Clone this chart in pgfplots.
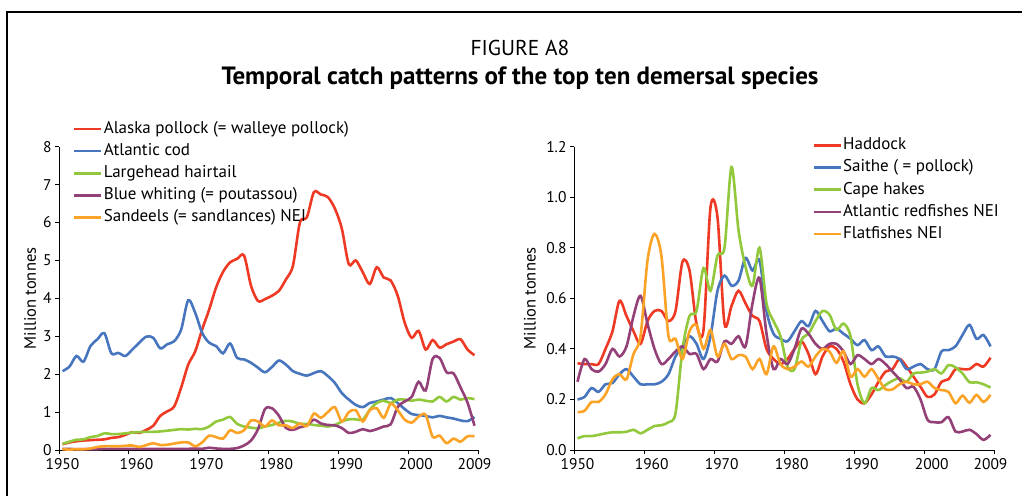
\documentclass[border=0pt]{standalone}
\usepackage{pgfplots}
\usepackage{pgfplotstable}
\pgfplotsset{compat=1.18}
\usepackage{fontspec}
\setmainfont{PT Sans}
\definecolor{cRed}{RGB}{238,58,36}
\definecolor{cBlue}{RGB}{72,118,190}
\definecolor{cGreen}{RGB}{146,200,60}
\definecolor{cPurple}{RGB}{148,64,120}
\definecolor{cOrange}{RGB}{250,163,38}

\pgfplotstableread{
year alaska cod hairtail bluew sandeels
1950 0.15 2.08 0.16 0.03 0.02
1951 0.20 2.20 0.22 0.03 0.01
1952 0.23 2.48 0.27 0.02 0.02
1953 0.25 2.33 0.28 0.02 0.02
1954 0.26 2.74 0.34 0.02 0.04
1955 0.27 2.92 0.37 0.02 0.08
1956 0.28 3.08 0.44 0.03 0.10
1957 0.32 2.55 0.42 0.03 0.10
1958 0.34 2.56 0.42 0.03 0.10
1959 0.40 2.48 0.44 0.03 0.11
1960 0.47 2.65 0.46 0.03 0.12
1961 0.45 2.83 0.47 0.03 0.08
1962 0.53 2.99 0.48 0.03 0.13
1963 0.64 2.96 0.48 0.03 0.18
1964 0.90 2.68 0.49 0.03 0.13
1965 1.02 2.79 0.51 0.03 0.14
1966 1.15 2.87 0.53 0.03 0.17
1967 1.65 3.18 0.55 0.03 0.20
1968 2.25 3.95 0.54 0.03 0.20
1969 2.60 3.62 0.56 0.04 0.10
1970 3.18 3.09 0.55 0.03 0.20
1971 3.70 2.83 0.62 0.06 0.38
1972 4.29 2.74 0.75 0.04 0.34
1973 4.70 2.55 0.80 0.03 0.30
1974 4.95 2.81 0.87 0.03 0.52
1975 5.04 2.43 0.69 0.05 0.45
1976 5.13 2.39 0.62 0.12 0.52
1977 4.33 2.30 0.59 0.25 0.78
1978 3.93 2.17 0.57 0.55 0.75
1979 3.98 2.05 0.62 1.08 0.62
1980 4.07 2.19 0.66 1.10 0.78
1981 4.20 2.36 0.72 0.90 0.65
1982 4.50 2.25 0.77 0.58 0.65
1983 4.86 2.08 0.75 0.53 0.58
1984 6.00 2.01 0.69 0.60 0.70
1985 6.14 1.96 0.69 0.65 0.63
1986 6.80 2.03 0.66 0.80 0.96
1987 6.74 2.08 0.64 0.70 0.85
1988 6.67 1.95 0.62 0.66 1.00
1989 6.37 1.77 0.66 0.65 1.13
1990 5.84 1.50 0.75 0.58 0.75
1991 4.90 1.33 0.81 0.45 1.00
1992 5.00 1.19 0.81 0.48 1.05
1993 4.69 1.13 0.80 0.55 0.75
1994 4.38 1.24 1.06 0.50 1.05
1995 4.82 1.28 1.24 0.55 1.10
1996 4.55 1.33 1.30 0.62 0.85
1997 4.47 1.37 1.24 0.68 1.22
1998 4.07 1.24 1.33 1.13 1.05
1999 3.36 1.08 1.33 1.28 0.80
2000 2.96 0.95 1.30 1.40 0.72
2001 3.14 0.92 1.33 1.80 0.88
2002 2.65 0.90 1.30 1.57 0.93
2003 2.90 0.86 1.28 2.40 0.35
2004 2.70 0.90 1.40 2.43 0.38
2005 2.79 0.86 1.28 2.05 0.18
2006 2.86 0.83 1.40 2.02 0.30
2007 2.92 0.78 1.33 1.65 0.22
2008 2.65 0.76 1.37 1.25 0.36
2009 2.50 0.87 1.34 0.64 0.36
}\lefttable

\pgfplotstableread{
year haddock saithe cape redfish flat
1950 0.343 0.200 0.046 0.270 0.150
1951 0.340 0.210 0.055 0.360 0.155
1952 0.340 0.245 0.055 0.320 0.190
1953 0.340 0.230 0.060 0.310 0.190
1954 0.400 0.260 0.066 0.340 0.220
1955 0.470 0.265 0.070 0.400 0.280
1956 0.590 0.300 0.070 0.370 0.300
1957 0.530 0.320 0.072 0.410 0.280
1958 0.470 0.290 0.080 0.530 0.380
1959 0.420 0.260 0.066 0.610 0.450
1960 0.510 0.260 0.080 0.500 0.750
1961 0.550 0.260 0.095 0.400 0.855
1962 0.550 0.270 0.098 0.340 0.765
1963 0.510 0.300 0.110 0.360 0.450
1964 0.550 0.370 0.145 0.390 0.440
1965 0.745 0.410 0.400 0.410 0.360
1966 0.710 0.450 0.530 0.380 0.470
1967 0.500 0.420 0.550 0.380 0.495
1968 0.475 0.360 0.720 0.320 0.400
1969 0.960 0.450 0.630 0.360 0.475
1970 0.920 0.630 0.770 0.350 0.370
1971 0.500 0.690 0.800 0.430 0.420
1972 0.570 0.650 1.120 0.420 0.360
1973 0.630 0.670 0.870 0.450 0.375
1974 0.580 0.760 0.725 0.410 0.370
1975 0.530 0.710 0.650 0.580 0.320
1976 0.510 0.750 0.800 0.680 0.360
1977 0.400 0.550 0.580 0.460 0.300
1978 0.360 0.460 0.510 0.320 0.410
1979 0.340 0.440 0.450 0.360 0.340
1980 0.360 0.430 0.330 0.340 0.320
1981 0.400 0.470 0.320 0.400 0.330
1982 0.430 0.510 0.435 0.480 0.350
1983 0.380 0.490 0.460 0.460 0.330
1984 0.300 0.550 0.510 0.420 0.370
1985 0.370 0.510 0.550 0.400 0.400
1986 0.410 0.470 0.535 0.420 0.390
1987 0.400 0.480 0.475 0.420 0.345
1988 0.350 0.460 0.500 0.390 0.390
1989 0.260 0.440 0.450 0.340 0.290
1990 0.200 0.415 0.260 0.375 0.320
1991 0.185 0.435 0.185 0.360 0.290
1992 0.220 0.395 0.245 0.340 0.320
1993 0.270 0.410 0.237 0.360 0.280
1994 0.310 0.370 0.257 0.340 0.240
1995 0.320 0.370 0.274 0.310 0.240
1996 0.360 0.360 0.284 0.280 0.260
1997 0.330 0.320 0.270 0.245 0.270
1998 0.290 0.330 0.303 0.250 0.260
1999 0.250 0.340 0.306 0.200 0.260
2000 0.210 0.320 0.310 0.120 0.270
2001 0.220 0.320 0.320 0.110 0.245
2002 0.270 0.390 0.303 0.110 0.237
2003 0.280 0.395 0.336 0.130 0.230
2004 0.320 0.410 0.327 0.073 0.185
2005 0.320 0.455 0.303 0.073 0.215
2006 0.320 0.495 0.268 0.080 0.187
2007 0.340 0.440 0.268 0.063 0.218
2008 0.330 0.455 0.260 0.040 0.190
2009 0.365 0.410 0.247 0.060 0.218
}\righttable

\pgfplotsset{
  fcommon/.style={
    scale only axis, width=419pt, height=303.3pt,
    xmin=1949.5, xmax=2009.5, ymin=0,
    axis x line*=bottom, axis y line*=left,
    axis line style={line width=0.8pt, black},
    tick align=outside, major tick length=4pt,
    tick style={black, line width=0.8pt},
    xtick={1949.5,1959.5,1969.5,1979.5,1989.5,1999.5,2009.5},
    xticklabels={},
    extra x ticks={1950,1960.6,1970.6,1980.6,1990.6,2000.6,2009},
    extra x tick labels={1950,1960,1970,1980,1990,2000,2009},
    extra x tick style={major tick length=0pt, grid=none,
      xticklabel style={yshift=-4.5pt}},
    ticklabel style={font=\fontsize{15.5}{18}\selectfont},
    /pgf/number format/assume math mode=true,
    clip=false,
    every axis plot/.append style={smooth, tension=0.5, line width=2.6pt, no markers},
    legend image code/.code={\draw[#1, line width=2.8pt, smooth] (0pt,0pt) -- (27pt,0pt);},
    legend cell align=left,
    legend style={draw=none, fill=none, anchor=north west, inner sep=0pt,
      font=\fontsize{17}{20}\selectfont, row sep=4.6pt,
      nodes={inner sep=1pt, text height=12pt, text depth=3.5pt}},
    ylabel={Million tonnes},
  }
}

\begin{document}
\begin{tikzpicture}[x=1pt,y=1pt]
\useasboundingbox (0,0) rectangle (1022,495);
\draw[line width=1.3pt] (7,-10) -- (7,483) -- (1040,483);
\node[font=\fontsize{21.5}{25}\selectfont] at (520,447) {FIGURE A8};
\node[font=\bfseries\fontsize{25}{29}\selectfont] at (520,417) {Temporal catch patterns of the top ten demersal species};

\begin{axis}[fcommon, at={(59pt,45pt)}, anchor=south west,
  ymax=8, ytick={0,1,...,8},
  every axis y label/.style={at={(axis description cs:-0.069,0.5)}, rotate=90, anchor=center, font=\fontsize{16.5}{19}\selectfont},
  legend style={at={(axis description cs:0.033,1.088)}}]
\addplot[cRed] table[x=year,y=alaska] {\lefttable};
\addlegendentry{Alaska pollock (= walleye pollock)}
\addplot[cBlue] table[x=year,y=cod] {\lefttable};
\addlegendentry{Atlantic cod}
\addplot[cGreen] table[x=year,y=hairtail] {\lefttable};
\addlegendentry{Largehead hairtail}
\addplot[cPurple] table[x=year,y=bluew] {\lefttable};
\addlegendentry{Blue whiting (= poutassou)}
\addplot[cOrange] table[x=year,y=sandeels] {\lefttable};
\addlegendentry{Sandeels (= sandlances) NEI}
\end{axis}

\begin{axis}[fcommon, width=420pt, at={(574pt,45pt)}, anchor=south west,
  ymax=1.2, ytick={0,0.2,...,1.2},
  yticklabel style={/pgf/number format/.cd, fixed, fixed zerofill, precision=1},
  every axis y label/.style={at={(axis description cs:-0.105,0.5)}, rotate=90, anchor=center, font=\fontsize{16.5}{19}\selectfont},
  legend style={at={(axis description cs:0.567,1.033)}}]
\addplot[cRed] table[x=year,y=haddock] {\righttable};
\addlegendentry{Haddock}
\addplot[cBlue] table[x=year,y=saithe] {\righttable};
\addlegendentry{Saithe ( = pollock)}
\addplot[cGreen] table[x=year,y=cape] {\righttable};
\addlegendentry{Cape hakes}
\addplot[cPurple] table[x=year,y=redfish] {\righttable};
\addlegendentry{Atlantic redfishes NEI}
\addplot[cOrange] table[x=year,y=flat] {\righttable};
\addlegendentry{Flatfishes NEI}
\end{axis}
\end{tikzpicture}
\end{document}
